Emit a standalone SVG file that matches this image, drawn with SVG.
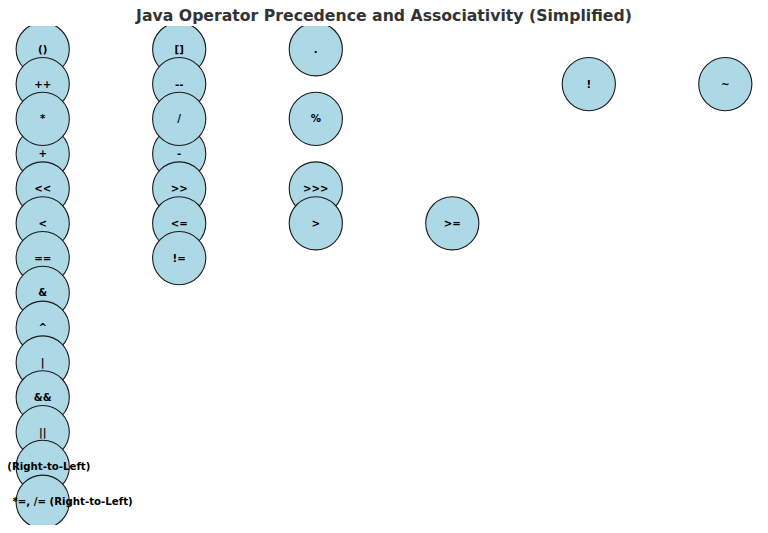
<svg xmlns="http://www.w3.org/2000/svg" width="768" height="533" viewBox="0 0 768 533">
<style>
.n circle{fill:#ADD8E6;stroke:#1a1a1a;stroke-width:1.1}
.lbl{font-family:"DejaVu Sans",sans-serif;font-weight:bold;font-size:10.2px;fill:#000;text-anchor:middle;dominant-baseline:central}
.lbls{font-family:"DejaVu Sans",sans-serif;font-weight:bold;font-size:10.2px;fill:#000;dominant-baseline:central}
.title{font-family:"DejaVu Sans",sans-serif;font-weight:bold;font-size:15.7px;fill:#333;text-anchor:middle}
</style>
<defs>
<clipPath id="ax"><rect x="0" y="26" width="768" height="499"/></clipPath>
</defs>
<rect width="768" height="533" fill="#fff"/>
<text class="title" x="384" y="20.5">Java Operator Precedence and Associativity (Simplified)</text>
<g id="connectors"></g>
<g clip-path="url(#ax)">
<g id="n-paren" class="n"><circle cx="42.7" cy="49.3" r="26.6"/></g>
<g id="n-bracket" class="n"><circle cx="179.2" cy="49.3" r="26.6"/></g>
<g id="n-dot" class="n"><circle cx="315.8" cy="49.3" r="26.6"/></g>
<g id="n-inc" class="n"><circle cx="42.7" cy="84.1" r="26.6"/></g>
<g id="n-dec" class="n"><circle cx="179.2" cy="84.1" r="26.6"/></g>
<g id="n-plus" class="n"><circle cx="42.7" cy="153.7" r="26.6"/></g>
<g id="n-minus" class="n"><circle cx="179.2" cy="153.7" r="26.6"/></g>
<g id="n-not" class="n"><circle cx="588.8" cy="84.1" r="26.6"/></g>
<g id="n-tilde" class="n"><circle cx="725.3" cy="84.1" r="26.6"/></g>
<g id="n-mul" class="n"><circle cx="42.7" cy="118.9" r="26.6"/></g>
<g id="n-div" class="n"><circle cx="179.2" cy="118.9" r="26.6"/></g>
<g id="n-mod" class="n"><circle cx="315.8" cy="118.9" r="26.6"/></g>
<g id="n-shl" class="n"><circle cx="42.7" cy="188.5" r="26.6"/></g>
<g id="n-shr" class="n"><circle cx="179.2" cy="188.5" r="26.6"/></g>
<g id="n-ushr" class="n"><circle cx="315.8" cy="188.5" r="26.6"/></g>
<g id="n-lt" class="n"><circle cx="42.7" cy="223.3" r="26.6"/></g>
<g id="n-le" class="n"><circle cx="179.2" cy="223.3" r="26.6"/></g>
<g id="n-gt" class="n"><circle cx="315.8" cy="223.3" r="26.6"/></g>
<g id="n-ge" class="n"><circle cx="452.3" cy="223.3" r="26.6"/></g>
<g id="n-eq" class="n"><circle cx="42.7" cy="258.1" r="26.6"/></g>
<g id="n-ne" class="n"><circle cx="179.2" cy="258.1" r="26.6"/></g>
<g id="n-band" class="n"><circle cx="42.7" cy="292.9" r="26.6"/></g>
<g id="n-xor" class="n"><circle cx="42.7" cy="327.7" r="26.6"/></g>
<g id="n-bor" class="n"><circle cx="42.7" cy="362.5" r="26.6"/></g>
<g id="n-and" class="n"><circle cx="42.7" cy="397.3" r="26.6"/></g>
<g id="n-or" class="n"><circle cx="42.7" cy="432.1" r="26.6"/></g>
<g id="n-ternary" class="n"><circle cx="42.7" cy="466.9" r="26.6"/></g>
<g id="n-assign" class="n"><circle cx="42.7" cy="501.7" r="26.6"/></g>
</g>
<g id="labels">
<text class="lbl" x="42.7" y="49.3">()</text>
<text class="lbl" x="179.2" y="49.3">[]</text>
<text class="lbl" x="315.8" y="49.3">.</text>
<text class="lbl" x="42.7" y="84.1">++</text>
<text class="lbl" x="179.2" y="84.1">--</text>
<text class="lbl" x="588.8" y="84.1">!</text>
<text class="lbl" x="725.3" y="84.1">~</text>
<text class="lbl" x="42.7" y="118.9">*</text>
<text class="lbl" x="179.2" y="118.9">/</text>
<text class="lbl" x="315.8" y="118.9">%</text>
<text class="lbl" x="42.7" y="153.7">+</text>
<text class="lbl" x="179.2" y="153.7">-</text>
<text class="lbl" x="42.7" y="188.5">&lt;&lt;</text>
<text class="lbl" x="179.2" y="188.5">&gt;&gt;</text>
<text class="lbl" x="315.8" y="188.5">&gt;&gt;&gt;</text>
<text class="lbl" x="42.7" y="223.3">&lt;</text>
<text class="lbl" x="179.2" y="223.3">&lt;=</text>
<text class="lbl" x="315.8" y="223.3">&gt;</text>
<text class="lbl" x="452.3" y="223.3">&gt;=</text>
<text class="lbl" x="42.7" y="258.1">==</text>
<text class="lbl" x="179.2" y="258.1">!=</text>
<text class="lbl" x="42.7" y="292.9">&amp;</text>
<text class="lbl" x="42.7" y="327.7">^</text>
<text class="lbl" x="42.7" y="362.5">|</text>
<text class="lbl" x="42.7" y="397.3">&amp;&amp;</text>
<text class="lbl" x="42.7" y="432.1">||</text>
<text class="lbls" x="7.3" y="466.9">(Right-to-Left)</text>
<text class="lbls" x="12.5" y="501.7">*=, /= (Right-to-Left)</text>
</g>
</svg>
